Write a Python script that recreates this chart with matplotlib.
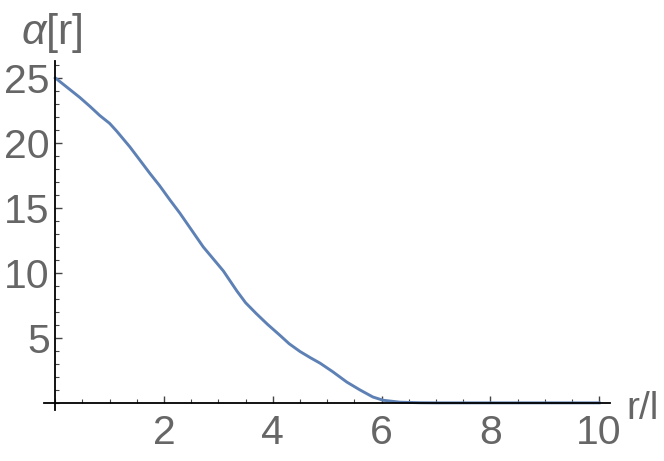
import matplotlib
matplotlib.use("Agg")
import matplotlib.pyplot as plt
from matplotlib.ticker import MultipleLocator

r_values = [0, 0.27, 0.45, 0.64, 0.82, 1.0, 1.13, 1.37, 1.56, 1.74, 1.92, 2.11, 2.29, 2.53,
            2.72, 2.9, 3.09, 3.34, 3.5, 3.7, 3.9, 4.13, 4.3, 4.5, 4.7, 4.87, 5.1, 5.36, 5.6,
            5.84, 6.03, 6.34, 6.7, 7, 8, 9, 10]
alpha_values = [25, 24.1, 23.5, 22.8, 22.1, 21.5, 20.9, 19.7, 18.65, 17.65, 16.7, 15.6, 14.6, 13.15,
                12.0, 11.1, 10.15, 8.6, 7.7, 6.85, 6.05, 5.2, 4.55, 3.95, 3.45, 3.05, 2.4, 1.6, 1.0,
                0.45, 0.2, 0.05, 0.01, 0, 0, 0, 0]
x_ticks = [2, 4, 6, 8, 10]
y_ticks = [5, 10, 15, 20, 25]

plt.rcParams['font.family'] = ['Liberation Sans', 'DejaVu Sans']
plt.rcParams['mathtext.fontset'] = 'custom'
plt.rcParams['mathtext.it'] = 'Liberation Sans:italic'
plt.rcParams['mathtext.rm'] = 'Liberation Sans'

gray = '#666666'
fig = plt.figure(figsize=(6.64, 4.61), dpi=100)
ax = fig.add_axes([0.0669, 0.1106, 0.8518, 0.757])
ax.plot(r_values, alpha_values, color='#5E81B5', lw=2.1, solid_joinstyle='round')
ax.set_xlim(-0.2, 10.2)
ax.set_ylim(-0.55, 26.3)

for s in ['top', 'right']:
    ax.spines[s].set_visible(False)
ax.spines['left'].set_position(('data', 0))
ax.spines['bottom'].set_position(('data', 0))
for s in ['left', 'bottom']:
    ax.spines[s].set_linewidth(1.3)
    ax.spines[s].set_color('black')

ax.set_xticks(x_ticks)
ax.set_yticks(y_ticks)
ax.xaxis.set_minor_locator(MultipleLocator(0.5))
ax.yaxis.set_minor_locator(MultipleLocator(1))
ax.tick_params(axis='both', which='major', direction='in', length=5, width=1.0,
               color='#444444', labelsize=29.5, labelcolor=gray)
ax.tick_params(axis='both', which='minor', direction='in', length=3, width=0.8, color='#444444')
ax.tick_params(axis='x', which='major', pad=8)
ax.tick_params(axis='y', which='major', pad=4)

fig.text(21/664, 1 - 44/461, r'$\alpha$[r]', fontsize=31, color=gray, ha='left', va='baseline')
fig.text(626/664, 1 - 419/461, 'r/l', fontsize=28, color=gray, ha='left', va='baseline')

fig.savefig('out.png', dpi=100)
